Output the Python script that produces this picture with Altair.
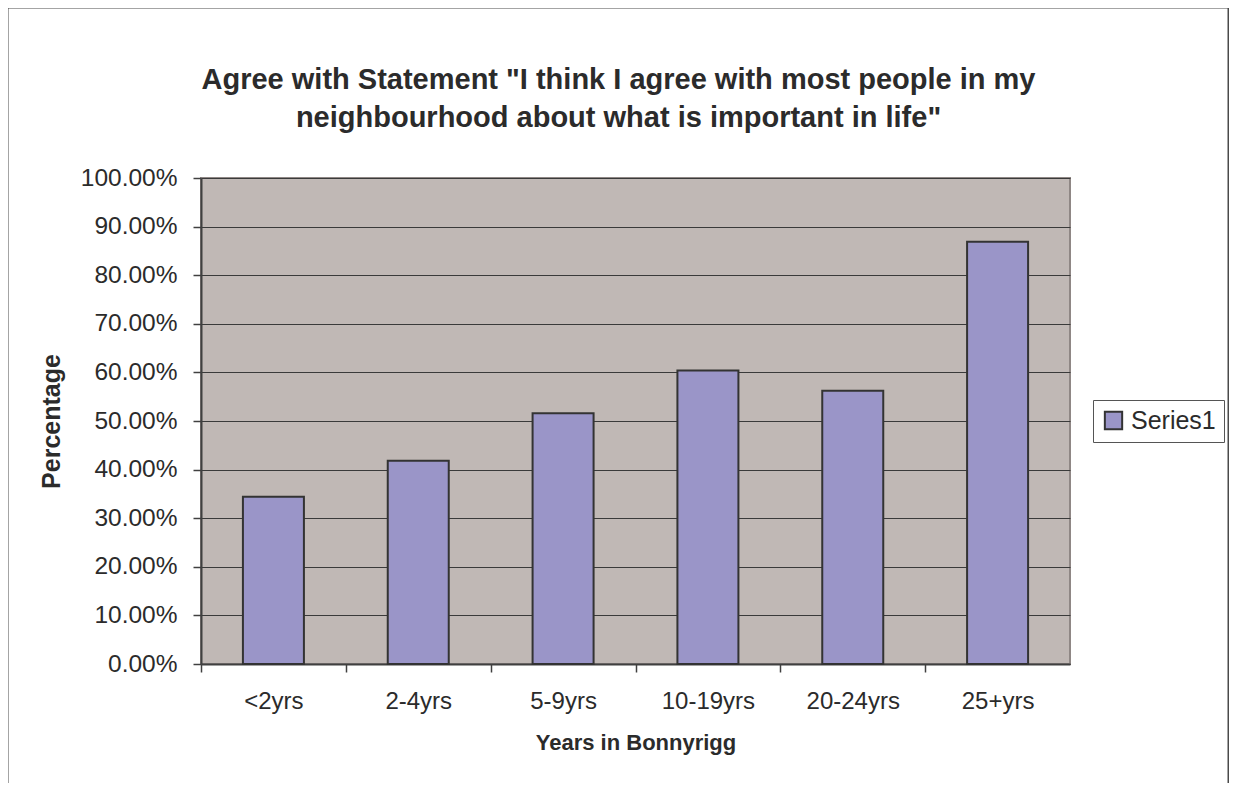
import altair as alt
import pandas as pd

categories = ["<2yrs", "2-4yrs", "5-9yrs", "10-19yrs", "20-24yrs", "25+yrs"]
values = [0.344, 0.418, 0.516, 0.604, 0.562, 0.869]
series = ["Series1"] * len(categories)

df = pd.DataFrame({"years": categories, "pct": values, "series": series})

W, H = 869, 486
PL, PT, PR, PB = 193, 170, 159, 119
FONT = "Liberation Sans"
TXT = "#2b2b2b"

frame = alt.Chart(alt.Data(values=[{"a": 1}])).mark_rect(
    fill=None, stroke="#4a4a4a", strokeWidth=2
).encode(
    x=alt.value(-193.5), x2=alt.value(1027.5),
    y=alt.value(-170.5), y2=alt.value(640)
)

bars = alt.Chart(df).mark_bar(size=61, stroke="#333333", strokeWidth=2).encode(
    x=alt.X("years:N", sort=categories,
            scale=alt.Scale(paddingInner=0, paddingOuter=0),
            axis=alt.Axis(title="Years in Bonnyrigg", labelAngle=0,
                          tickOffset=-W / 12, labelOffset=W / 12,
                          tickSize=8, labelPadding=17, titlePadding=19,
                          labelFontSize=24,
                          domainColor="#404040", domainWidth=2,
                          tickColor="#404040", tickWidth=1.5)),
    y=alt.Y("pct:Q", scale=alt.Scale(domain=[0, 1], nice=False),
            axis=alt.Axis(title="Percentage", format=".2%",
                          values=[i / 10 for i in range(11)],
                          tickSize=8, labelPadding=16, titlePadding=16,
                          labelFontSize=24.5, titleFontSize=25,
                          grid=True, gridColor="#3a3a3a", gridWidth=1,
                          domainColor="#404040", domainWidth=2,
                          tickColor="#404040", tickWidth=1.5)),
    color=alt.Color("series:N", scale=alt.Scale(range=["#9A95C8"]),
                    legend=alt.Legend(title=None, orient="none",
                                      legendX=892, legendY=222,
                                      symbolType="square", symbolSize=300,
                                      symbolStrokeColor="#333333", symbolStrokeWidth=2,
                                      labelFontSize=25, labelFont=FONT, labelColor=TXT,
                                      fillColor="white", strokeColor="#555555",
                                      padding=8, labelOffset=5)),
)

chart = alt.layer(frame, bars).properties(
    width=W, height=H,
    background="white",
    padding={"left": PL, "top": PT, "right": PR, "bottom": PB},
    autosize=alt.AutoSizeParams(type="none"),
    title=alt.TitleParams(
        text=['Agree with Statement "I think I agree with most people in my',
              'neighbourhood about what is important in life"'],
        anchor="middle", frame="group", dx=-17, offset=-126,
        fontSize=29, font=FONT, fontWeight="bold", color=TXT, lineHeight=38),
).configure_view(
    fill="#C0B8B5", stroke="#8F8785", strokeWidth=2
).configure_axis(
    labelFont=FONT, labelFontSize=23, labelColor=TXT,
    titleFont=FONT, titleFontSize=22, titleFontWeight="bold", titleColor=TXT,
)

chart.save("out.html", embed_options={"renderer": "svg", "actions": False})
